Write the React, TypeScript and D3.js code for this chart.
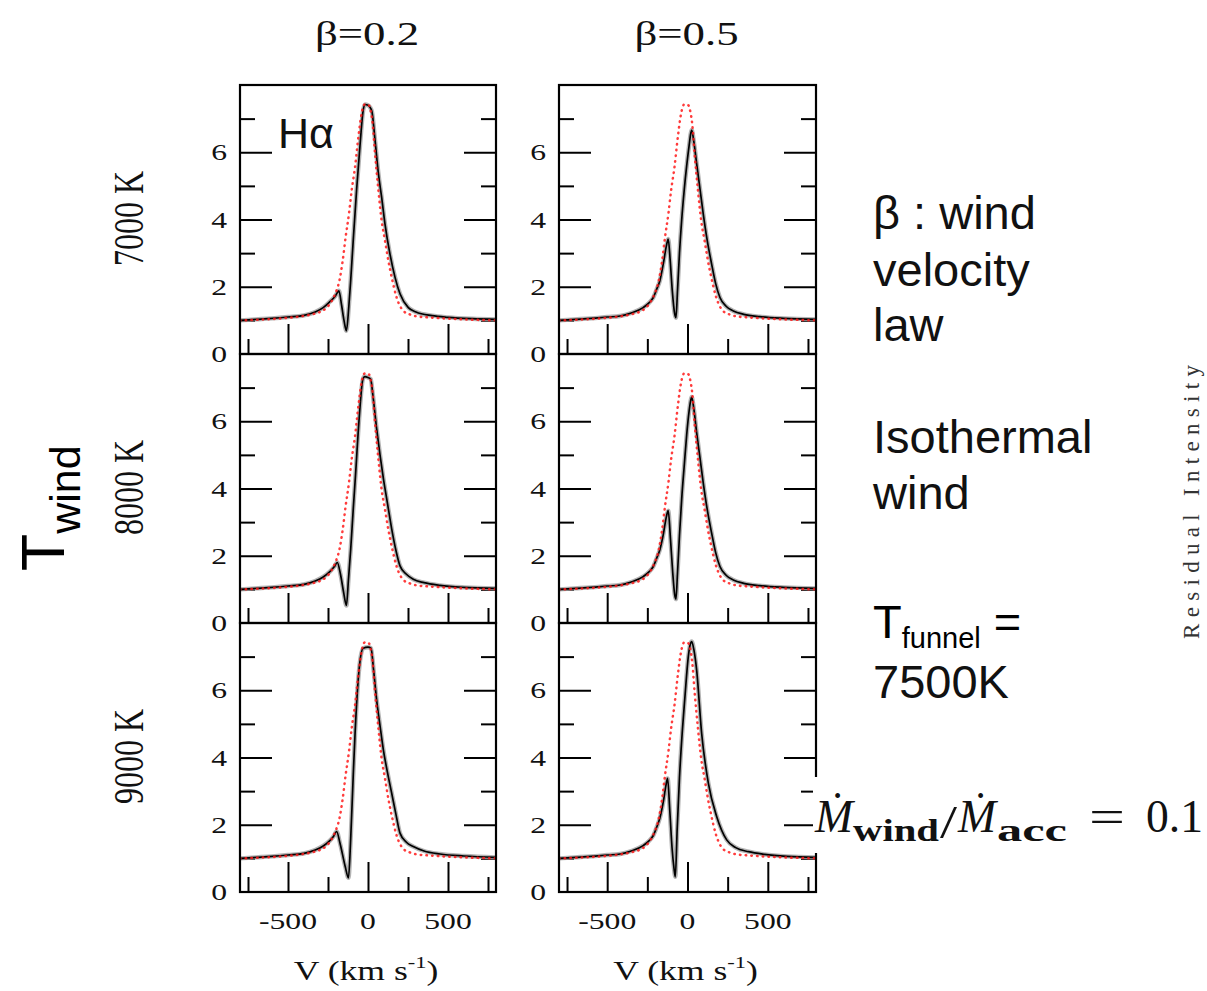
import React, { useRef, useEffect } from "react";
import * as d3 from "d3";

// panel titles / row labels / tick labels
const BETAS = ["β=0.2", "β=0.5"];
const TEMPS = ["7000 K", "8000 K", "9000 K"];
const Y_LABELS = [0, 2, 4, 6];
const X_LABELS = [-500, 0, 500];

// red dotted comparison profile (same in every panel), [v km/s, intensity]
const RED_PROFILE = [
  [-800, 1.0], [-600, 1.04], [-450, 1.1], [-350, 1.18], [-300, 1.25], [-258, 1.38],
  [-230, 1.55], [-206, 1.78], [-179, 2.18], [-158, 2.78], [-140, 3.47], [-119, 4.17],
  [-102, 4.87], [-81, 5.56], [-60, 6.46], [-40, 7.15], [-19, 7.43], [5, 7.4], [18, 7.2],
  [29, 6.86], [44, 5.96], [65, 4.87], [85, 3.97], [106, 3.38], [127, 2.78], [148, 2.28],
  [179, 1.68], [221, 1.28], [260, 1.18], [305, 1.12], [400, 1.08], [550, 1.04], [800, 1.0],
];

// black model profiles, beta = 0.2
const B02_7000 = [
  [-800, 1.0], [-700, 1.03], [-600, 1.06], [-500, 1.1], [-400, 1.15], [-330, 1.25],
  [-280, 1.38], [-240, 1.55], [-205, 1.72], [-182, 1.88], [-165, 1.45], [-150, 1.0],
  [-135, 0.69], [-120, 1.4], [-108, 2.2], [-92, 3.4], [-71, 4.9], [-50, 6.2], [-30, 7.25],
  [-18, 7.42], [0, 7.4], [15, 7.32], [25, 7.2], [44, 6.36], [65, 5.37], [85, 4.67],
  [106, 3.87], [137, 2.98], [169, 2.28], [200, 1.79], [252, 1.38], [300, 1.25],
  [400, 1.14], [500, 1.09], [650, 1.05], [800, 1.03],
];
const B02_8000 = [
  [-800, 1.0], [-700, 1.03], [-600, 1.06], [-500, 1.1], [-400, 1.15], [-330, 1.25],
  [-280, 1.37], [-240, 1.52], [-210, 1.68], [-192, 1.8], [-172, 1.45], [-152, 0.9],
  [-135, 0.52], [-122, 1.3], [-108, 2.2], [-92, 3.4], [-78, 4.4], [-55, 6.1], [-32, 7.25],
  [-20, 7.33], [0, 7.3], [17, 7.25], [30, 6.8], [54, 5.78], [75, 5.0], [96, 4.3],
  [122, 3.55], [148, 2.8], [175, 2.15], [200, 1.7], [240, 1.45], [283, 1.3], [350, 1.2],
  [450, 1.12], [600, 1.06], [800, 1.03],
];
const B02_9000 = [
  [-800, 1.0], [-700, 1.03], [-600, 1.06], [-500, 1.1], [-400, 1.15], [-330, 1.25],
  [-280, 1.37], [-240, 1.52], [-215, 1.66], [-196, 1.8], [-175, 1.45], [-142, 0.75],
  [-122, 0.42], [-108, 1.6], [-92, 3.5], [-81, 4.7], [-54, 6.7], [-30, 7.25], [0, 7.28],
  [19, 7.25], [35, 6.6], [54, 5.71], [75, 4.95], [96, 4.23], [122, 3.55], [148, 2.94],
  [175, 2.3], [200, 1.75], [240, 1.48], [283, 1.35], [350, 1.22], [450, 1.13],
  [600, 1.07], [800, 1.03],
];

// black model profiles, beta = 0.5
const B05_7000 = [
  [-800, 1.0], [-700, 1.03], [-600, 1.06], [-500, 1.1], [-420, 1.13], [-350, 1.22],
  [-276, 1.38], [-240, 1.52], [-213, 1.68], [-190, 1.95], [-172, 2.18], [-150, 2.7],
  [-132, 3.2], [-120, 3.42], [-108, 2.8], [-95, 1.9], [-80, 1.2], [-72, 1.08], [-62, 1.9],
  [-50, 3.0], [-36, 4.0], [-20, 4.9], [-5, 5.6], [10, 6.2], [20, 6.55], [26, 6.66],
  [40, 6.3], [57, 5.66], [78, 4.9], [98, 4.17], [122, 3.4], [150, 2.68], [175, 2.1],
  [202, 1.68], [240, 1.42], [285, 1.28], [350, 1.18], [450, 1.11], [600, 1.06], [800, 1.03],
];
const B05_8000 = [
  [-800, 1.0], [-700, 1.03], [-600, 1.06], [-500, 1.1], [-420, 1.13], [-350, 1.22],
  [-276, 1.38], [-240, 1.52], [-213, 1.68], [-190, 1.95], [-172, 2.18], [-150, 2.65],
  [-132, 3.15], [-120, 3.34], [-106, 2.5], [-92, 1.5], [-80, 0.85], [-72, 0.71], [-62, 1.5],
  [-50, 2.6], [-36, 3.7], [-20, 4.7], [-5, 5.6], [10, 6.3], [20, 6.62], [26, 6.72],
  [40, 6.35], [57, 5.66], [78, 4.9], [98, 4.17], [122, 3.4], [150, 2.68], [175, 2.1],
  [202, 1.68], [240, 1.42], [285, 1.28], [350, 1.18], [450, 1.11], [600, 1.06], [800, 1.03],
];
const B05_9000 = [
  [-800, 1.0], [-700, 1.03], [-600, 1.06], [-500, 1.1], [-420, 1.13], [-350, 1.22],
  [-276, 1.38], [-240, 1.52], [-213, 1.68], [-190, 1.95], [-172, 2.2], [-150, 2.7],
  [-135, 3.15], [-124, 3.38], [-110, 2.4], [-96, 1.3], [-84, 0.7], [-76, 0.45], [-64, 1.9],
  [-50, 3.4], [-32, 4.8], [-16, 5.8], [5, 7.0], [18, 7.38], [26, 7.45], [40, 7.2],
  [57, 6.6], [88, 4.72], [130, 3.23], [182, 2.24], [244, 1.55], [300, 1.32], [380, 1.2],
  [480, 1.12], [620, 1.06], [800, 1.03],
];

const PANELS = [
  [B02_7000, B05_7000],
  [B02_8000, B05_8000],
  [B02_9000, B05_9000],
];

const COLS = [[240, 496], [559, 816]];
const ROWS = [[85, 354], [354, 623], [623, 892]];

const SERIF = "'Liberation Serif', 'Times New Roman', serif";
const SANS = "'Liberation Sans', Arial, sans-serif";
const SX = 1.32; // the source figure is stretched horizontally

const App = () => {
  const svgRef = useRef(null);

  useEffect(() => {
    const svg = d3.select(svgRef.current);
    svg.selectAll("*").remove();

    const hText = (x, y, txt, size, anchor = "middle", fam = SERIF, sx = SX) =>
      svg
        .append("text")
        .attr("transform", `translate(${x},${y}) scale(${sx},1)`)
        .attr("text-anchor", anchor)
        .attr("font-family", fam)
        .attr("font-size", size)
        .attr("fill", "#111")
        .text(txt);

    const vText = (x, y, txt, size, sy = SX) =>
      svg
        .append("text")
        .attr("transform", `translate(${x},${y}) rotate(-90) scale(1,${sy})`)
        .attr("text-anchor", "middle")
        .attr("font-family", SERIF)
        .attr("font-size", size)
        .attr("fill", "#111")
        .text(txt);

    const defs = svg.append("defs");

    PANELS.forEach((row, ri) => {
      row.forEach((blackData, ci) => {
        const [x0, x1] = COLS[ci];
        const [y0, y1] = ROWS[ri];
        const x = d3.scaleLinear().domain([-800, 800]).range([x0, x1]);
        const y = d3.scaleLinear().domain([0, 8]).range([y1, y0]);
        const id = `clip-${ri}-${ci}`;
        defs
          .append("clipPath")
          .attr("id", id)
          .append("rect")
          .attr("x", x0)
          .attr("y", y0)
          .attr("width", x1 - x0)
          .attr("height", y1 - y0);

        const g = svg.append("g");

        const axStyle = (sel) => {
          sel.select(".domain").remove();
          sel.selectAll(".tick line").attr("stroke", "#000").attr("stroke-width", 2);
          sel.selectAll(".tick text").remove();
        };
        g.append("g").attr("transform", `translate(${x0},0)`)
          .call(d3.axisLeft(y).tickValues([2, 4, 6]).tickSize(-32)).call(axStyle);
        g.append("g").attr("transform", `translate(${x0},0)`)
          .call(d3.axisLeft(y).tickValues([1, 3, 5, 7]).tickSize(-15)).call(axStyle);
        g.append("g").attr("transform", `translate(${x1},0)`)
          .call(d3.axisRight(y).tickValues([2, 4, 6]).tickSize(-32)).call(axStyle);
        g.append("g").attr("transform", `translate(${x1},0)`)
          .call(d3.axisRight(y).tickValues([1, 3, 5, 7]).tickSize(-15)).call(axStyle);
        g.append("g").attr("transform", `translate(0,${y1})`)
          .call(d3.axisBottom(x).tickValues([-500, 0, 500]).tickSize(-30)).call(axStyle);
        g.append("g").attr("transform", `translate(0,${y1})`)
          .call(d3.axisBottom(x).tickValues([-750, -250, 250, 750]).tickSize(-15)).call(axStyle);

        const line = d3
          .line()
          .x((d) => x(d[0]))
          .y((d) => y(d[1]))
          .curve(d3.curveMonotoneX);

        const lines = g.append("g").attr("clip-path", `url(#${id})`);
        lines.append("path").datum(blackData).attr("d", line)
          .attr("fill", "none").attr("stroke", "#a0a0a0").attr("stroke-width", 4.4)
          .attr("stroke-opacity", 0.8);
        lines.append("path").datum(blackData).attr("d", line)
          .attr("fill", "none").attr("stroke", "#000").attr("stroke-width", 1.7);
        lines.append("path").datum(RED_PROFILE).attr("d", line)
          .attr("fill", "none").attr("stroke", "#ff1a1a").attr("stroke-width", 2.5)
          .attr("stroke-dasharray", "0.5 5.2").attr("stroke-linecap", "round")
          .attr("stroke-opacity", 0.85);

        g.append("rect")
          .attr("x", x0).attr("y", y0)
          .attr("width", x1 - x0).attr("height", y1 - y0)
          .attr("fill", "none").attr("stroke", "#000").attr("stroke-width", 2.2);

        Y_LABELS.forEach((v) => {
          hText(x0 - 13, y(v) + 8, String(v), 24, "end");
        });
        if (ri === ROWS.length - 1) {
          X_LABELS.forEach((v) => {
            hText(x(v), y1 + 37, String(v), 24, "middle");
          });
          const t = svg
            .append("text")
            .attr("transform", `translate(${(x0 + x1) / 2 - 2},${y1 + 88}) scale(${SX},1)`)
            .attr("text-anchor", "middle")
            .attr("font-family", SERIF)
            .attr("font-size", 27)
            .attr("fill", "#111");
          t.append("tspan").text("V (km s");
          t.append("tspan").attr("font-size", 17).attr("dy", -12).text("-1");
          t.append("tspan").attr("dy", 12).text(")");
        }
        if (ri === 0) {
          hText((x0 + x1) / 2 - 1, 45, BETAS[ci], 34, "middle");
        }
      });
      vText(143, (ROWS[ri][0] + ROWS[ri][1]) / 2 - 1, TEMPS[ri], 32);
    });

    // T_wind
    const tw = svg
      .append("text")
      .attr("transform", "translate(64,571) rotate(-90)")
      .attr("font-family", SANS)
      .attr("font-size", 61)
      .attr("fill", "#000");
    tw.append("tspan").text("T");
    tw.append("tspan").attr("font-size", 43).attr("dy", 16).text("wind");

    // H alpha tag
    hText(278, 148, "Hα", 43, "start", SANS, 1);

    // right-hand annotations
    const notes = [
      ["β : wind", 229],
      ["velocity", 286],
      ["law", 341],
      ["Isothermal", 453],
      ["wind", 509],
      ["7500K", 698],
    ];
    notes.forEach(([s, yy]) => hText(873, yy, s, 47, "start", SANS, 1));
    const tf = svg
      .append("text")
      .attr("x", 873)
      .attr("y", 638)
      .attr("font-family", SANS)
      .attr("font-size", 47)
      .attr("fill", "#000");
    tf.append("tspan").text("T");
    tf.append("tspan").attr("font-size", 29).attr("dy", 10).text("funnel");
    tf.append("tspan").attr("dy", -10).text(" =");

    // mass-loss ratio formula on a white patch
    svg.append("rect").attr("x", 813).attr("y", 777).attr("width", 394).attr("height", 76)
      .attr("fill", "#fff");
    const fm = (x, y, s, size, opts = {}) =>
      svg
        .append("text")
        .attr("x", x)
        .attr("y", y)
        .attr("font-family", SERIF)
        .attr("font-size", size)
        .attr("font-style", opts.italic ? "italic" : "normal")
        .attr("font-weight", opts.bold ? 600 : "normal")
        .attr("fill", "#111")
        .attr("textLength", opts.len || null)
        .attr("lengthAdjust", "spacingAndGlyphs")
        .text(s);
    fm(815, 832, "Ṁ", 46, { italic: true, len: 38 });
    fm(853, 841, "wind", 32, { bold: true, len: 86 });
    fm(940, 838, "/", 46, { len: 17 });
    fm(958, 832, "Ṁ", 46, { italic: true, len: 38 });
    fm(997, 841, "acc", 32, { bold: true, len: 70 });
    fm(1089, 832, "=", 46, { len: 36 });
    fm(1146, 832, "0.1", 46, { len: 57 });

    // residual intensity axis title
    svg
      .append("text")
      .attr("transform", "translate(1199,502) rotate(-90)")
      .attr("text-anchor", "middle")
      .attr("font-family", SERIF)
      .attr("font-size", 23)
      .attr("fill", "#333")
      .attr("textLength", 274)
      .attr("lengthAdjust", "spacing")
      .text("Residual Intensity");
  }, []);

  return (
    <svg
      ref={svgRef}
      width="1207"
      height="991"
      style={{ position: "absolute", left: 0, top: 0, background: "#fff" }}
    ></svg>
  );
};

export default App;
